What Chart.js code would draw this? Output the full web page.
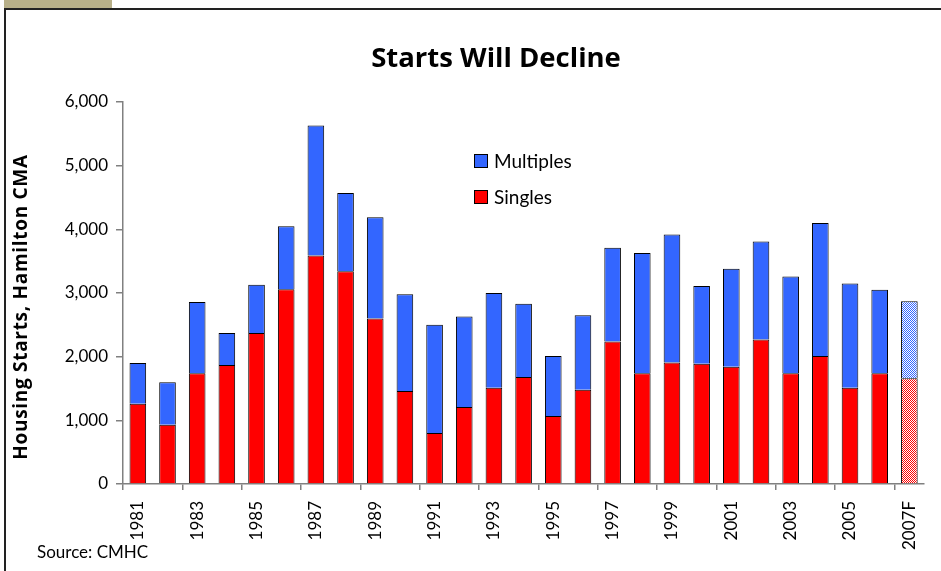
<!DOCTYPE html>
<html>
<head>
<meta charset="utf-8">
<title>Starts Will Decline</title>
<script src="https://cdn.jsdelivr.net/npm/chart.js@4/dist/chart.umd.min.js"></script>
<style>
  html, body { margin: 0; padding: 0; background: #fff; }
  canvas { display: block; }
</style>
</head>
<body>
<canvas id="grafico" width="941" height="571"></canvas>
<script>
// Housing starts, Hamilton CMA (units)
const anos = ['1981', '1982', '1983', '1984', '1985', '1986', '1987', '1988', '1989', '1990',
  '1991', '1992', '1993', '1994', '1995', '1996', '1997', '1998', '1999', '2000',
  '2001', '2002', '2003', '2004', '2005', '2006', '2007F'];
const singles = [1260, 930, 1740, 1870, 2370, 3060, 3590, 3340, 2600, 1460,
  800, 1210, 1510, 1680, 1070, 1480, 2240, 1740, 1910, 1890,
  1840, 2270, 1740, 2010, 1510, 1740, 1660];
const multiples = [640, 670, 1120, 500, 760, 990, 2040, 1230, 1590, 1520,
  1700, 1420, 1490, 1150, 940, 1170, 1470, 1890, 2010, 1220,
  1540, 1540, 1520, 2090, 1640, 1310, 1210];
const yTicks = [0, 1000, 2000, 3000, 4000, 5000, 6000];

const FONTE = 'Lato, "DejaVu Sans", sans-serif';
const FONTE_TITULO = '"Open Sans", Lato, sans-serif';
const AZUL = '#3366ff';
const VERMELHO = '#ff0000';
const CINZA = '#808080';

// pontilhado para o ano de previsão
function padrao(cor) {
  const c = document.createElement('canvas');
  c.width = 2; c.height = 2;
  const g = c.getContext('2d');
  g.fillStyle = '#ffffff';
  g.fillRect(0, 0, 2, 2);
  g.fillStyle = cor;
  g.fillRect(0, 0, 1, 1);
  g.fillRect(1, 1, 1, 1);
  return g.createPattern(c, 'repeat');
}

function corBarra(cor) {
  const pat = padrao(cor);
  return anos.map(a => a.endsWith('F') ? pat : cor);
}

// moldura, título, legenda e fonte
const decoracao = {
  id: 'decoracao',
  afterDraw(chart) {
    const c = chart.ctx;
    c.save();

    c.fillStyle = '#b8b089';
    c.fillRect(4, 0, 108, 8);
    c.fillStyle = '#222';
    c.fillRect(4, 8, 937, 2);
    c.fillRect(4, 8, 2, 563);

    c.fillStyle = '#000';
    c.textAlign = 'center';
    c.textBaseline = 'middle';
    c.font = 'bold 27.5px ' + FONTE_TITULO;
    c.fillText('Starts Will Decline', 496, 59);

    c.save();
    c.translate(22, 307);
    c.rotate(-Math.PI / 2);
    c.font = 'bold 19px ' + FONTE_TITULO;
    c.letterSpacing = '0.7px';
    c.fillText('Housing Starts, Hamilton CMA', 0, 0);
    c.restore();

    // legenda: Multiples em cima, Singles embaixo
    const itens = [[chart.data.datasets[1], 161], [chart.data.datasets[0], 197]];
    c.textAlign = 'left';
    c.font = '19px ' + FONTE;
    itens.forEach(([ds, y]) => {
      c.fillStyle = ds.label === 'Multiples' ? AZUL : VERMELHO;
      c.fillRect(474, y - 7, 14, 14);
      c.strokeStyle = '#000';
      c.lineWidth = 1;
      c.strokeRect(474.5, y - 6.5, 13, 13);
      c.fillStyle = '#000';
      c.fillText(ds.label, 494, y + 1);
    });

    c.font = '17px ' + FONTE;
    c.fillText('Source: CMHC', 37, 553);
    c.restore();
  }
};

const ctx = document.getElementById('grafico').getContext('2d');
const chart = new Chart(ctx, {
  type: 'bar',
  data: {
    labels: anos,
    datasets: [
      { label: 'Singles', data: singles, backgroundColor: corBarra(VERMELHO) },
      { label: 'Multiples', data: multiples, backgroundColor: corBarra(AZUL) }
    ]
  },
  options: {
    responsive: false,
    animation: false,
    devicePixelRatio: 1,
    layout: { padding: { top: 102, right: 13, bottom: 0, left: 0 } },
    datasets: {
      bar: {
        categoryPercentage: 1,
        barPercentage: 0.56,
        borderColor: '#000',
        borderWidth: 1
      }
    },
    plugins: {
      legend: { display: false },
      title: { display: false },
      tooltip: { enabled: false }
    },
    scales: {
      x: {
        stacked: true,
        offset: true,
        border: { display: true, color: CINZA, width: 1.5 },
        grid: {
          offset: true,
          drawOnChartArea: false,
          drawTicks: true,
          tickLength: 6,
          lineWidth: 1.5,
          color: c => (c.index !== undefined && c.index % 2 === 0) ? CINZA : 'rgba(0,0,0,0)'
        },
        ticks: {
          autoSkip: false,
          maxRotation: 90,
          minRotation: 90,
          padding: 11,
          color: '#000',
          font: { family: FONTE, size: 17 },
          callback: (v, i) => i % 2 === 0 ? anos[i] : ''
        },
        afterFit: s => { s.height = 87; }
      },
      y: {
        stacked: true,
        min: yTicks[0],
        max: yTicks[yTicks.length - 1],
        afterBuildTicks: s => { s.ticks = yTicks.map(v => ({ value: v })); },
        border: { display: true, color: CINZA, width: 1.5 },
        grid: {
          drawOnChartArea: false,
          drawTicks: true,
          tickLength: 7,
          lineWidth: 1.5,
          color: CINZA
        },
        ticks: {
          padding: 8,
          color: '#000',
          font: { family: FONTE, size: 17 },
          callback: v => v.toLocaleString('en-US')
        },
        afterFit: s => { s.width = 123; }
      }
    }
  },
  plugins: [decoracao]
});
</script>
</body>
</html>
